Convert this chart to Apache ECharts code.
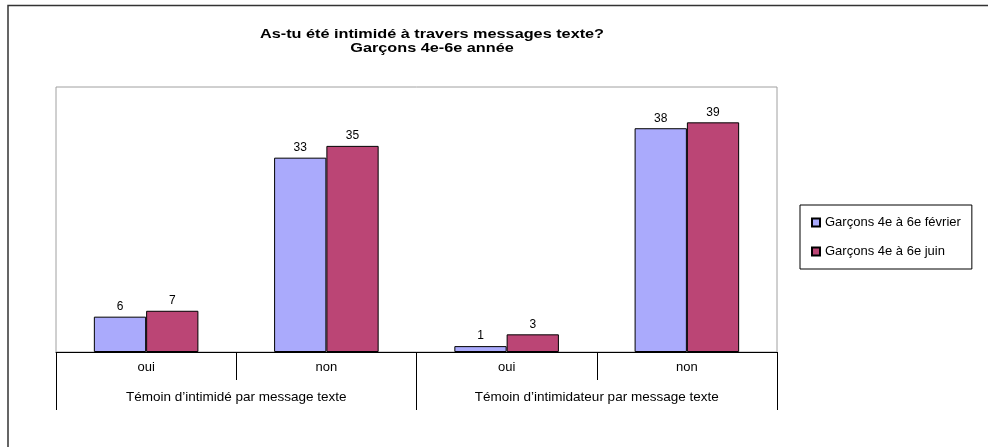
<!DOCTYPE html>
<html>
<head>
<meta charset="utf-8">
<script src="https://cdn.jsdelivr.net/npm/echarts@6/dist/echarts.min.js"></script>
<style>html,body{margin:0;padding:0;background:#fff}#c{width:988px;height:447px}</style>
</head>
<body>
<div id="c"></div>
<script>
var categories = ['oui', 'non', 'oui', 'non'];
var groups = ['Témoin d\u2019intimidé par message texte', 'Témoin d\u2019intimidateur par message texte'];
var seriesNames = ['Garçons 4e à 6e février', 'Garçons 4e à 6e juin'];
var fevrier = [6, 33, 1, 38];
var juin = [7, 35, 3, 39];
var titleText = 'As-tu été intimidé à travers messages texte?\nGarçons 4e-6e année';

var font = 'Arial, "Liberation Sans", sans-serif';
var chart = echarts.init(document.getElementById('c'), null, {renderer: 'canvas'});
chart.setOption({
  animation: false,
  backgroundColor: '#fff',
  textStyle: {fontFamily: font},
  graphic: [{
    type: 'polyline',
    shape: {points: [[8, 447], [8, 5.5], [988, 5.5]]},
    style: {stroke: '#333', lineWidth: 1.5, fill: null}
  }, {
    type: 'text',
    x: 432, y: 28,
    scaleX: 1.3,
    style: {
      text: titleText, textAlign: 'center', textVerticalAlign: 'top',
      font: 'bold 12.5px ' + font, fill: '#000', lineHeight: 14
    }
  }],
  legend: {
    orient: 'vertical',
    left: 800, top: 205,
    padding: [11, 11, 11, 11],
    itemGap: 16,
    itemWidth: 8, itemHeight: 8,
    itemTextGap: 2,
    icon: 'rect',
    borderColor: '#000', borderWidth: 1,
    textStyle: {fontSize: 13, color: '#000', fontFamily: font},
    data: seriesNames
  },
  grid: {
    left: 56, right: 211, top: 87, height: 265,
    show: true, borderColor: '#a0a0a0', borderWidth: 1, containLabel: false
  },
  xAxis: [{
    type: 'category', data: categories, position: 'bottom',
    axisLine: {show: true, lineStyle: {color: '#000', width: 1}},
    axisTick: {show: true, interval: 0, length: 28, lineStyle: {color: '#000'}},
    axisLabel: {margin: 9, fontSize: 13, color: '#000', fontFamily: font, interval: 0}
  }, {
    type: 'category', data: groups, position: 'bottom', offset: 0,
    axisLine: {show: false},
    axisTick: {show: true, interval: 0, length: 58, lineStyle: {color: '#000'}},
    axisLabel: {margin: 38, fontSize: 13.5, color: '#000', fontFamily: font, interval: 0}
  }],
  yAxis: {
    type: 'value', min: 0, max: 45, show: false,
    splitLine: {show: false}
  },
  series: [{
    name: seriesNames[0], type: 'bar', data: fevrier,
    barGap: '0%', barCategoryGap: '42%',
    itemStyle: {color: '#aaaafc', borderColor: '#000', borderWidth: 1},
    label: {show: true, position: 'top', distance: 4, fontSize: 12, color: '#000', fontFamily: font}
  }, {
    name: seriesNames[1], type: 'bar', data: juin,
    barGap: '0%', barCategoryGap: '42%',
    itemStyle: {color: '#bb4575', borderColor: '#000', borderWidth: 1},
    label: {show: true, position: 'top', distance: 4, fontSize: 12, color: '#000', fontFamily: font}
  }]
});
</script>
</body>
</html>
